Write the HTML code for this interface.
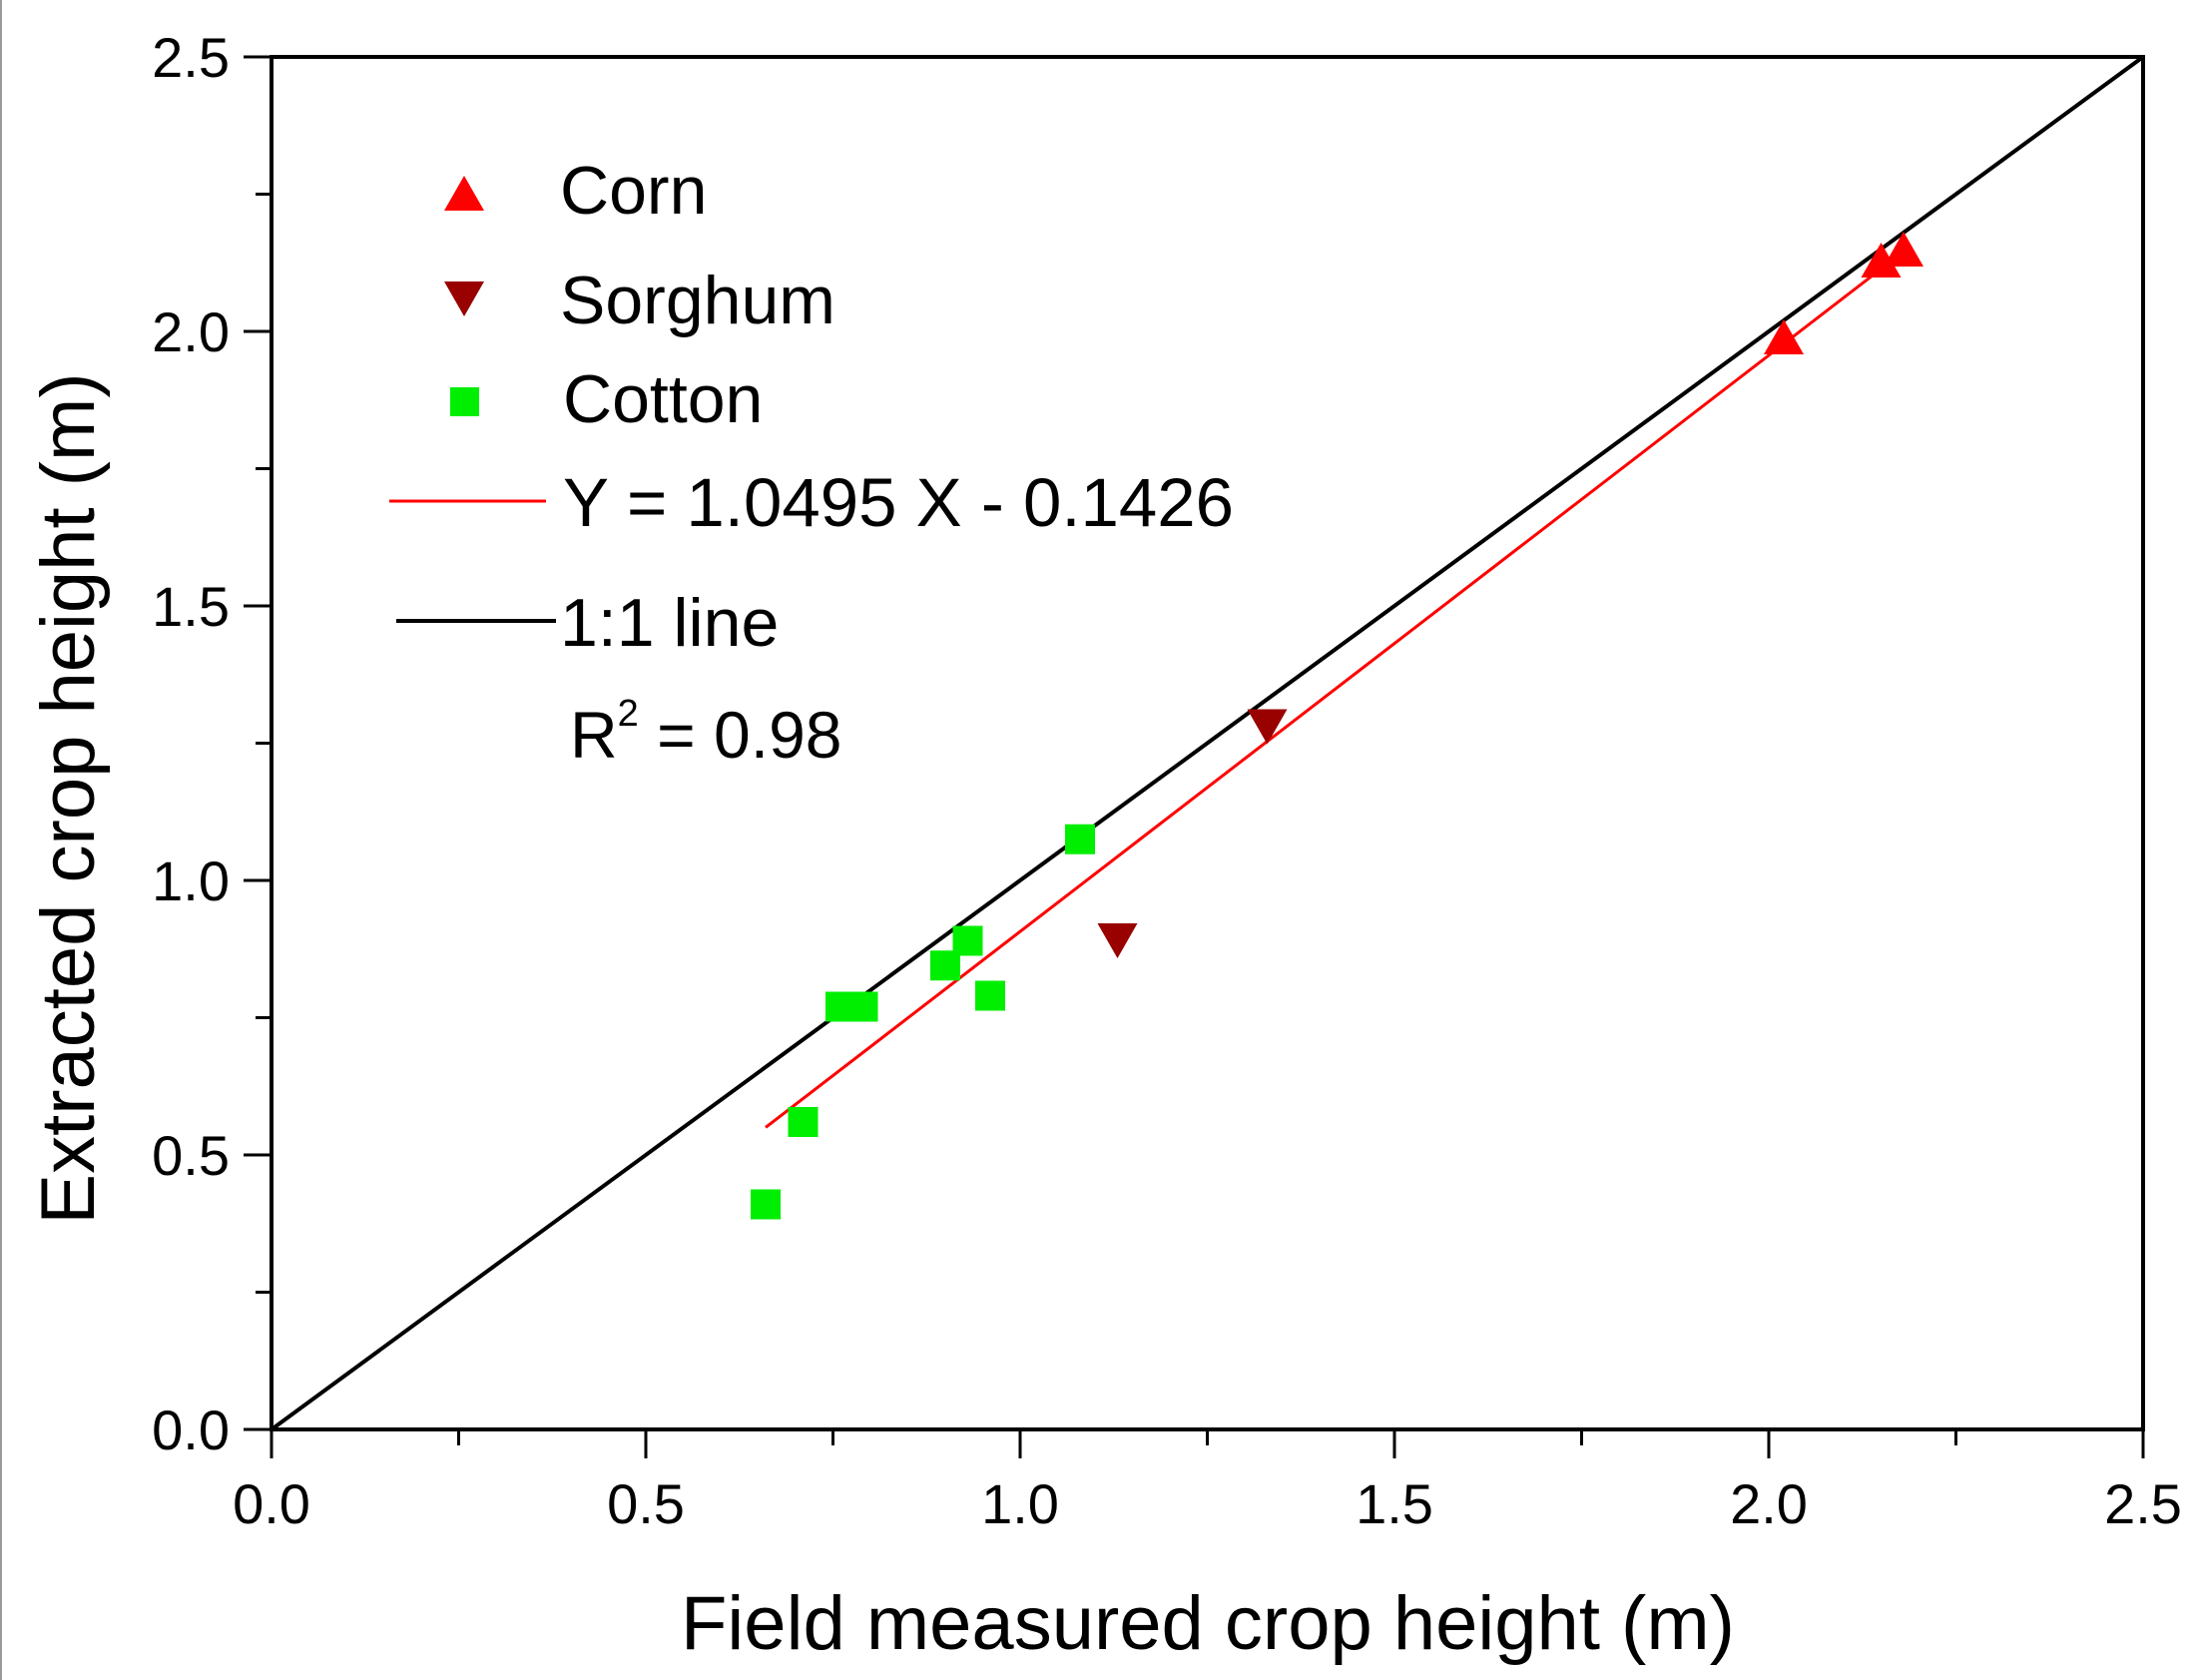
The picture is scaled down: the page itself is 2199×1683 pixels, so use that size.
<!DOCTYPE html>
<html><head><meta charset="utf-8"><style>
html,body{margin:0;padding:0;background:#fff;}
svg{display:block;font-family:"Liberation Sans",Arial,sans-serif;}
</style></head><body>
<svg id="chart" width="2199" height="1683" viewBox="0 0 2199 1683">
<rect x="0" y="0" width="2199" height="1683" fill="#fff"/>
<line x1="1" y1="0" x2="1" y2="1683" stroke="#999" stroke-width="2"/>
<g id="axes"></g>
<g id="lines"></g>
<g id="marks"></g>
<g id="legend">
  <polygon points="445,211 485,211 465,176" fill="#ff0000"/>
  <text x="561" y="214" font-size="68">Corn</text>
  <polygon points="445,282 485,282 465,317" fill="#990000"/>
  <text x="561" y="324" font-size="68">Sorghum</text>
  <rect x="451" y="388" width="29" height="29" fill="#00ee00"/>
  <text x="564" y="423" font-size="68">Cotton</text>
  <line x1="390" y1="502" x2="547" y2="502" stroke="#ff0000" stroke-width="3"/>
  <text x="564" y="527" font-size="69">Y = 1.0495 X - 0.1426</text>
  <line x1="397" y1="622" x2="557" y2="622" stroke="#000" stroke-width="4"/>
  <text x="561" y="647" font-size="68">1:1 line</text>
  <text x="571" y="759" font-size="66">R<tspan font-size="38" dy="-32">2</tspan><tspan dy="32"> = 0.98</tspan></text>
</g>
<text x="1210" y="1652" font-size="76" text-anchor="middle">Field measured crop height (m)</text>
<text transform="translate(94,800) rotate(-90)" font-size="76" text-anchor="middle">Extracted crop height (m)</text>
</svg>
<script>
const xTicks=[0,0.5,1.0,1.5,2.0,2.5];
const yTicks=[0,0.5,1.0,1.5,2.0,2.5];
const tickLabels=["0.0","0.5","1.0","1.5","2.0","2.5"];
const cornX=[2.02,2.15,2.18];
const cornY=[1.98,2.12,2.14];
const sorghumX=[1.33,1.13];
const sorghumY=[1.29,0.90];
const cottonX=[0.66,0.71,0.76,0.79,0.90,0.93,0.96,1.08];
const cottonY=[0.41,0.56,0.77,0.77,0.845,0.89,0.79,1.075];
const fitSlope=1.0495, fitIntercept=-0.1426, fitRange=[0.66,2.18];

const L=272,R=2147,T=57,B=1432;
const sx=v=>L+(R-L)*v/2.5;
const sy=v=>B-(B-T)*v/2.5;
const NS="http://www.w3.org/2000/svg";
function mk(tag,attrs,parent){const e=document.createElementNS(NS,tag);for(const k in attrs)e.setAttribute(k,attrs[k]);parent.appendChild(e);return e;}
const axes=document.getElementById('axes');
const frame=mk('rect',{x:L,y:T,width:R-L,height:B-T,fill:'none',stroke:'#000','stroke-width':4},axes);


for(let i=0;i<=10;i++){
  const v=i*0.25, major=i%2===0;
  const tx=mk('line',{x1:sx(v),x2:sx(v),y1:B,y2:B+(major?29:16),stroke:'#000','stroke-width':3},axes);
  
  
  const ty=mk('line',{x1:L,x2:L-(major?28:16),y1:sy(v),y2:sy(v),stroke:'#000','stroke-width':3},axes);
  
  
}
xTicks.forEach((v,i)=>{
  const t=mk('text',{x:sx(v),y:B+94,'font-size':56,'text-anchor':'middle'},axes);
  t.textContent=tickLabels[i];
  
  
});
yTicks.forEach((v,i)=>{
  const t=mk('text',{x:L-42,y:sy(v)+20,'font-size':56,'text-anchor':'end'},axes);
  t.textContent=tickLabels[i];
  
  
});
const lines=document.getElementById('lines');
const one=mk('line',{x1:sx(0),y1:sy(0),x2:sx(2.5),y2:sy(2.5),stroke:'#000','stroke-width':4},lines);


const fit=mk('line',{x1:sx(fitRange[0]),y1:sy(fitSlope*fitRange[0]+fitIntercept),x2:sx(fitRange[1]),y2:sy(fitSlope*fitRange[1]+fitIntercept),stroke:'#ff0000','stroke-width':3},lines);


const marks=document.getElementById('marks');
cottonX.forEach((v,i)=>{
  const cx=sx(v),cy=sy(cottonY[i]);
  const r=mk('rect',{x:cx-15,y:cy-15,width:30,height:30,fill:'#00ee00'},marks);
  
  
});
sorghumX.forEach((v,i)=>{
  const cx=sx(v),cy=sy(sorghumY[i]);
  const p=mk('polygon',{points:`${cx-20},${cy-12} ${cx+20},${cy-12} ${cx},${cy+23}`,fill:'#990000'},marks);
  
  
});
cornX.forEach((v,i)=>{
  const cx=sx(v),cy=sy(cornY[i]);
  const p=mk('polygon',{points:`${cx-20},${cy+12} ${cx+20},${cy+12} ${cx},${cy-23}`,fill:'#ff0000'},marks);
  
  
});
</script>
</body></html>
